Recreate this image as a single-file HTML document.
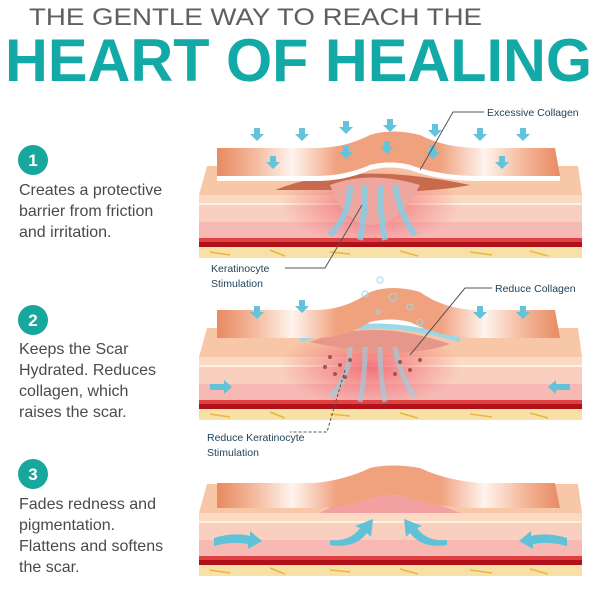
<!DOCTYPE html>
<html><head><style>
html,body{margin:0;padding:0;background:#fff;width:600px;height:600px;overflow:hidden}
svg text{font-family:"Liberation Sans",Arial,sans-serif}
</style></head><body>
<svg width="600" height="600" viewBox="0 0 600 600" xmlns="http://www.w3.org/2000/svg">
<defs>
<linearGradient id="patch" x1="0" x2="1" y1="0" y2="0">
<stop offset="0" stop-color="#e88a62"/><stop offset="0.1" stop-color="#f3b597"/><stop offset="0.22" stop-color="#fff4ee"/><stop offset="0.35" stop-color="#f0a27e"/><stop offset="0.65" stop-color="#f0a27e"/><stop offset="0.78" stop-color="#fff4ee"/><stop offset="0.9" stop-color="#f3b597"/><stop offset="1" stop-color="#e88a62"/>
</linearGradient>
<radialGradient id="glow" cx="0.5" cy="0.5" r="0.5"><stop offset="0" stop-color="#f05a6a" stop-opacity="0.8"/><stop offset="1" stop-color="#f05a6a" stop-opacity="0"/></radialGradient>
<g id="skin">
<polygon points="207,166 578,166 582,195 199,195" fill="#f7c7a8"/>
<rect x="199" y="195" width="383" height="9" fill="#fbd9c3"/>
<rect x="199" y="203" width="383" height="2" fill="#fff2dc"/>
<rect x="199" y="205" width="383" height="17" fill="#f9cfc0"/>
<rect x="199" y="222" width="383" height="17" fill="#f6b9b4"/>
<rect x="199" y="238" width="383" height="4" fill="#e04040"/>
<rect x="199" y="242" width="383" height="5" fill="#b0101a"/>
<rect x="199" y="247" width="383" height="11" fill="#f8e1a6"/>
<path d="M210 252 l20 3 M270 250 l15 6 M330 252 l20 2 M400 251 l18 5 M470 252 l22 3 M530 251 l18 5" stroke="#e9b640" stroke-width="1.5"/>
</g>
<path id="arrow" d="M-3 -6 h6 v6 h4 l-7 7 l-7 -7 h4z" fill="#62c3da"/>
</defs>

<text x="29" y="25" font-size="24" fill="#5f5f5f" textLength="453" lengthAdjust="spacingAndGlyphs">THE GENTLE WAY TO REACH THE</text>
<text x="5" y="81" font-size="60" font-weight="bold" fill="#13a9a7" textLength="587" lengthAdjust="spacingAndGlyphs">HEART OF HEALING</text>

<!-- left column -->
<g font-size="16" fill="#4a4a4a">
<circle cx="33" cy="160" r="15" fill="#17a79c"/><text x="33" y="166" font-size="17" font-weight="bold" fill="#fff" text-anchor="middle">1</text>
<text x="19" y="195">Creates a protective</text><text x="19" y="216">barrier from friction</text><text x="19" y="237">and irritation.</text>
<circle cx="33" cy="320" r="15" fill="#17a79c"/><text x="33" y="326" font-size="17" font-weight="bold" fill="#fff" text-anchor="middle">2</text>
<text x="19" y="354">Keeps the Scar</text><text x="19" y="375">Hydrated. Reduces</text><text x="19" y="396">collagen, which</text><text x="19" y="417">raises the scar.</text>
<circle cx="33" cy="474" r="15" fill="#17a79c"/><text x="33" y="480" font-size="17" font-weight="bold" fill="#fff" text-anchor="middle">3</text>
<text x="19" y="509">Fades redness and</text><text x="19" y="530">pigmentation.</text><text x="19" y="551">Flattens and softens</text><text x="19" y="572">the scar.</text>
</g>

<!-- Diagram 1 -->
<use href="#skin"/>
<ellipse cx="370" cy="205" rx="90" ry="40" fill="url(#glow)"/>
<path d="M275 190 Q350 160 470 185 Q420 195 330 190 Z" fill="#c86a4e"/>
<path d="M330 185 Q370 170 420 185 Q400 225 372 225 Q345 225 330 185Z" fill="#eea6a0"/>
<path d="M350 185 q0 30 -20 50 M365 185 q0 30 -5 55 M380 185 q0 30 5 55 M395 185 q5 30 20 50" stroke="#7fd0e6" stroke-width="6" fill="none" opacity="0.8"/>
<path d="M217 148 L315 148 Q345 148 370 135 Q392 128 420 135 Q445 148 480 148 L555 148 L560 176 L480 176 Q440 176 410 165 Q390 160 370 165 Q345 176 315 176 L217 176 Z" fill="url(#patch)"/>
<path d="M217 176 L315 176 Q345 176 370 165 Q390 160 410 165 Q440 176 480 176 L560 176 L560 181 L480 181 Q440 181 410 170 Q390 165 370 170 Q345 181 315 181 L217 181Z" fill="#fff"/>
<g><use href="#arrow" x="257" y="134"/><use href="#arrow" x="302" y="134"/><use href="#arrow" x="346" y="127"/><use href="#arrow" x="390" y="125"/><use href="#arrow" x="435" y="130"/><use href="#arrow" x="480" y="134"/><use href="#arrow" x="523" y="134"/>
<use href="#arrow" x="273" y="162"/><use href="#arrow" x="346" y="152"/><use href="#arrow" x="387" y="147"/><use href="#arrow" x="433" y="152"/><use href="#arrow" x="502" y="162"/></g>
<path d="M420 170 L453 112 L484 112" stroke="#555" fill="none"/>
<text x="487" y="116" font-size="10.5" fill="#1d3f57">Excessive Collagen</text>
<path d="M362 205 L325 268 L285 268" stroke="#555" fill="none"/>
<text x="211" y="272" font-size="10.5" fill="#1d3f57">Keratinocyte</text><text x="211" y="287" font-size="10.5" fill="#1d3f57">Stimulation</text>

<!-- Diagram 2 -->
<g transform="translate(0,162)">
<use href="#skin"/>
<ellipse cx="370" cy="205" rx="90" ry="40" fill="url(#glow)"/>
<path d="M310 180 Q370 155 450 182 Q400 200 310 180Z" fill="#e7978a"/>
<path d="M300 178 Q370 150 460 178" stroke="#9ad8e8" stroke-width="5" fill="none"/>
<path d="M350 185 q0 30 -20 50 M365 185 q0 30 -5 55 M380 185 q0 30 5 55 M395 185 q5 30 20 50" stroke="#8fd5e6" stroke-width="5" fill="none" opacity="0.6"/>
<g fill="#a0564c"><circle cx="330" cy="195" r="2"/><circle cx="340" cy="203" r="2"/><circle cx="335" cy="212" r="2"/><circle cx="350" cy="198" r="2"/><circle cx="325" cy="205" r="2"/><circle cx="345" cy="215" r="2"/><circle cx="400" cy="200" r="2"/><circle cx="410" cy="208" r="2"/><circle cx="395" cy="212" r="2"/><circle cx="420" cy="198" r="2"/></g>
<path d="M217 148 L315 148 Q345 148 370 130 Q392 122 420 130 Q445 148 480 148 L555 148 L560 176 L480 176 Q440 176 410 160 Q390 155 370 160 Q345 176 315 176 L217 176 Z" fill="url(#patch)"/>
<g><use href="#arrow" x="257" y="150"/><use href="#arrow" x="302" y="144"/><use href="#arrow" x="480" y="150"/><use href="#arrow" x="523" y="150"/></g>
<path d="M210 222 h14 v-4 l8 7 l-8 7 v-4 h-14z" fill="#62c3da"/>
<path d="M570 222 h-14 v-4 l-8 7 l8 7 v-4 h14z" fill="#62c3da"/>
<g fill="none" stroke="#9ad8e8"><circle cx="380" cy="118" r="3"/><circle cx="365" cy="132" r="3"/><circle cx="393" cy="135" r="4"/><circle cx="410" cy="145" r="3"/><circle cx="378" cy="150" r="2"/><circle cx="420" cy="160" r="3"/></g>
</g>
<path d="M410 355 L465 288 L492 288" stroke="#555" fill="none"/>
<text x="495" y="292" font-size="10.5" fill="#1d3f57">Reduce Collagen</text>
<path d="M345 370 L327 432 L290 432" stroke="#555" stroke-dasharray="3,2" fill="none"/>
<text x="207" y="441" font-size="10.5" fill="#1d3f57">Reduce Keratinocyte</text><text x="207" y="456" font-size="10.5" fill="#1d3f57">Stimulation</text>

<!-- Diagram 3 -->
<g transform="translate(0,318)">
<use href="#skin"/>
<path d="M320 195 Q380 160 460 195Z" fill="#f2a0a0"/>
<path d="M217 165 L315 165 Q345 162 370 150 Q392 145 420 150 Q445 162 480 165 L555 165 L560 190 L480 190 Q440 190 410 180 Q390 175 370 180 Q345 190 315 190 L217 190 Z" fill="url(#patch)"/>
<path d="M214 220 q20 -6 36 -2 v-5 l12 10 l-14 8 v-5 q-16 -3 -34 2z" fill="#5fc2d8"/>
<path d="M567 220 q-20 -6 -36 -2 v-5 l-12 10 l14 8 v-5 q16 -3 34 2z" fill="#5fc2d8"/>
<path d="M330 222 q20 2 30 -12 l-5 -2 l18 -7 l-2 18 l-4 -4 q-12 16 -37 12z" fill="#5fc2d8"/>
<path d="M447 222 q-20 2 -30 -12 l5 -2 l-18 -7 l2 18 l4 -4 q12 16 37 12z" fill="#5fc2d8"/>
</g>
</svg>
</body></html>
